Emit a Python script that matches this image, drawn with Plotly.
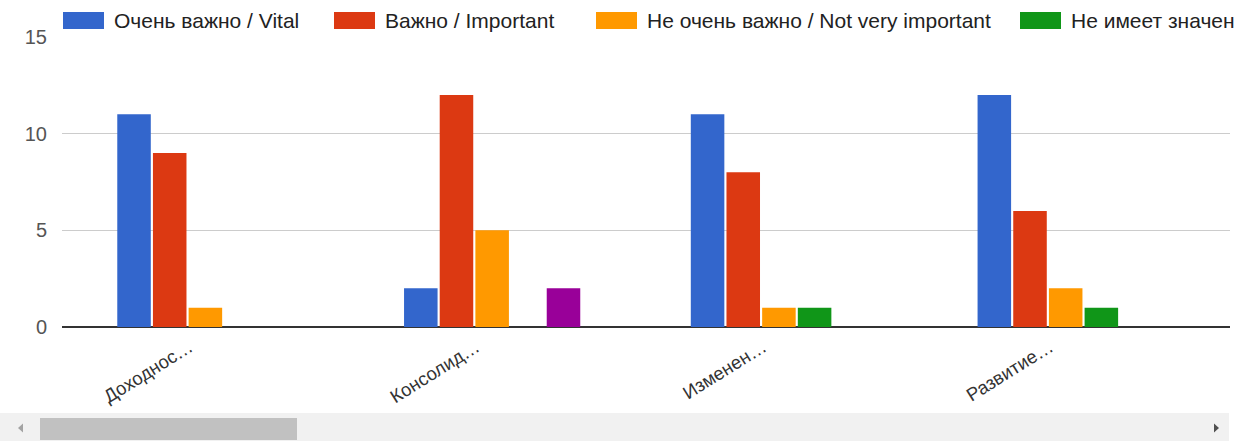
import plotly.graph_objects as go

categories = ["Доходнос…", "Консолид…", "Изменен…", "Развитие…"]
series_names = [
    "Очень важно / Vital",
    "Важно / Important",
    "Не очень важно / Not very important",
    "Не имеет значения / Does not matter",
    "Затрудняюсь ответить / Hard to say",
]
vital = [11, 2, 11, 12]
important = [9, 12, 8, 6]
not_very_important = [1, 5, 1, 2]
does_not_matter = [0, 0, 1, 1]
hard_to_say = [0, 2, 0, 0]
y_ticks = [0, 5, 10, 15]

colors = ["#3366cc", "#dc3912", "#ff9900", "#109618", "#990099"]
series_values = [vital, important, not_very_important, does_not_matter, hard_to_say]

W, H = 1234, 441
L, R, T, B = 62, 4, 37, 114
PW = W - L - R
PH = H - T - B
FONT = "Liberation Sans, Arial, sans-serif"


def px(x):
    return (x - L) / PW


def py(y):
    return (H - B - y) / PH


fig = go.Figure()
for name, vals, col in zip(series_names, series_values, colors):
    fig.add_trace(go.Bar(x=categories, y=vals, name=name, marker_color=col,
                         marker_line_width=0, showlegend=False))

shapes = []
annotations = []
# custom legend (clipped at the right edge, as in the reference)
legend_swatch_x = [63, 334, 596, 1020, 1400]
for i, (name, col) in enumerate(zip(series_names, colors)):
    sx = legend_swatch_x[i]
    shapes.append(dict(type="rect", xref="paper", yref="paper",
                       x0=px(sx), x1=px(sx + 41), y0=py(29), y1=py(12),
                       fillcolor=col, line_width=0))
    annotations.append(dict(text=name, xref="paper", yref="paper",
                            x=px(sx + 49), y=py(20.5), xanchor="left", yanchor="middle",
                            showarrow=False, font=dict(family=FONT, size=21, color="#222222")))

# horizontal scrollbar decoration
shapes.append(dict(type="rect", xref="paper", yref="paper", x0=px(0), x1=px(1229),
                   y0=py(441), y1=py(413), fillcolor="#f1f1f1", line_width=0, layer="below"))
shapes.append(dict(type="rect", xref="paper", yref="paper", x0=px(40), x1=px(297),
                   y0=py(440), y1=py(418), fillcolor="#c1c1c1", line_width=0))
shapes.append(dict(type="path", xref="paper", yref="paper",
                   path=f"M {px(18)} {py(428)} L {px(23)} {py(423.5)} L {px(23)} {py(432.5)} Z",
                   fillcolor="#a3a3a3", line_width=0))
shapes.append(dict(type="path", xref="paper", yref="paper",
                   path=f"M {px(1219)} {py(428)} L {px(1214)} {py(423.5)} L {px(1214)} {py(432.5)} Z",
                   fillcolor="#505050", line_width=0))

fig.update_layout(
    width=W, height=H, autosize=False,
    margin=dict(l=L, r=R, t=T, b=B, pad=0),
    paper_bgcolor="white", plot_bgcolor="white",
    barmode="group", bargap=0.378, bargroupgap=0.06,
    font=dict(family=FONT, size=20, color="#444444"),
    shapes=shapes, annotations=annotations,
    showlegend=False,
)
fig.update_xaxes(type="category", range=[-0.5, 3.573], tickangle=-32, automargin=False,
                 showgrid=False, showline=False, ticks="", ticklabelshift=-16,
                 ticklabelstandoff=5,
                 tickfont=dict(family=FONT, size=18.5, color="#333333"))
fig.update_yaxes(range=[0, 15], tickvals=y_ticks, showgrid=True, gridcolor="#cccccc",
                 gridwidth=1, zeroline=True, zerolinecolor="#333333", zerolinewidth=1.5,
                 showline=False, ticks="", ticklabelstandoff=14, automargin=False,
                 tickfont=dict(family=FONT, size=20, color="#555555"))

fig.write_html("out.html", config={"displayModeBar": False},
               post_script="document.body.style.margin='0px';")
